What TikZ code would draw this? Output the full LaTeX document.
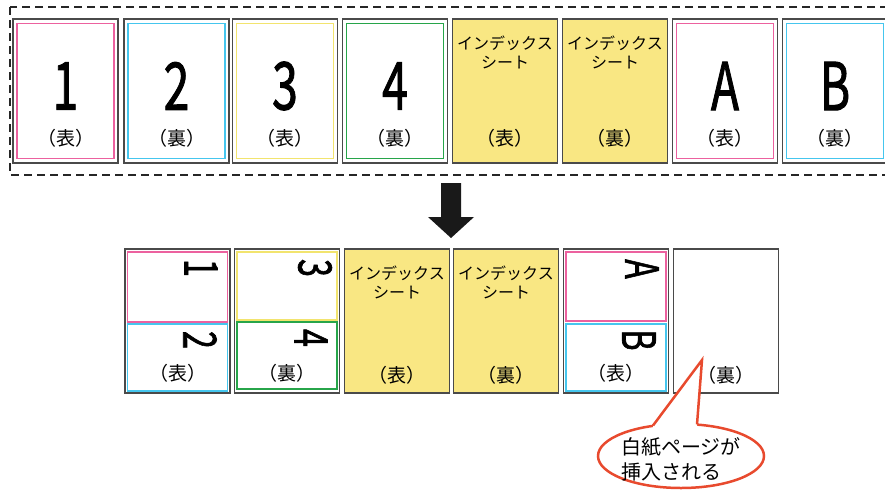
\documentclass[tikz,border=0pt]{standalone}
\usepackage{fontspec}
\setmainfont{Noto Sans CJK JP}
\newfontfamily\numfont[FakeBold=1.6]{Noto Sans CJK JP}
\usepackage{graphicx}
\usetikzlibrary{shapes.geometric}
\definecolor{cpink}{HTML}{EC619F}
\definecolor{ccyan}{HTML}{45C6EE}
\definecolor{cyell}{HTML}{F2E46E}
\definecolor{cgreen}{HTML}{27A54A}
\definecolor{cfill}{HTML}{F9E783}
\definecolor{cframe}{HTML}{4A4A4A}
\definecolor{cred}{HTML}{E84A2E}
\newcommand\bignum[1]{\scalebox{0.70}[1]{\numfont\fontsize{66}{66}\selectfont #1}}
\newcommand\smallnum[1]{\scalebox{0.70}[1]{\numfont\fontsize{46}{46}\selectfont #1}}
\begin{document}
\begin{tikzpicture}[x=1pt,y=-1pt,
  card/.style={draw=cframe,line width=1.3pt,fill=white,minimum width=105,minimum height=144,inner sep=0pt,outer sep=0pt},
  idx/.style={card,fill=cfill},
  inbox/.style={line width=1.2pt,minimum width=97,minimum height=135,inner sep=0pt,outer sep=0pt},
  half/.style={line width=1.2pt,minimum width=100,inner sep=0pt,outer sep=0pt},
  lbl/.style={font=\fontsize{19}{19}\selectfont,inner sep=0pt},
  idxtxt/.style={font=\fontsize{16}{19}\selectfont,align=center,inner sep=0pt},
  num/.style={inner sep=0pt},
  rnum/.style={inner sep=0pt,rotate=-90}]
\useasboundingbox (0,0) rectangle (885,490);
\begin{scope}
\clip (0,0) rectangle (885,490);
% dashed frame
\draw[line width=2pt,dash pattern=on 8pt off 5pt,draw=black!85] (10,7) rectangle (905,175);
% top row cards
\node[card] (t1) at (65.5,91) {};
\node[inbox,draw=cpink] (t1i) at (t1) {};
\node[card] (t2) at (176.5,91) {};
\node[inbox,draw=ccyan] (t2i) at (t2) {};
\node[card] (t3) at (285,91) {};
\node[inbox,draw=cyell] (t3i) at (t3) {};
\node[card] (t4) at (395,91) {};
\node[inbox,draw=cgreen] (t4i) at (t4) {};
\node[idx] (t5) at (505,91) {};
\node[idx] (t6) at (615,91) {};
\node[card] (t7) at (725,91) {};
\node[inbox,draw=cpink] (t7i) at (t7) {};
\node[card] (t8) at (835,91) {};
\node[inbox,draw=ccyan] (t8i) at (t8) {};
% top texts
\node[num] (n1) at (65.5,86) {\bignum{1}};
\node[num] (n2) at (176.5,86) {\bignum{2}};
\node[num] (n3) at (285,86) {\bignum{3}};
\node[num] (n4) at (395,86) {\bignum{4}};
\node[num] (nA) at (725,86) {\bignum{A}};
\node[num] (nB) at (835,86) {\bignum{B}};
\node[idxtxt] (x5) at (505,52.5) {インデックス\\シート};
\node[idxtxt] (x6) at (615,52.5) {インデックス\\シート};
\node[lbl] (l1) at (65.5,138) {（表）};
\node[lbl] (l2) at (176.5,138) {（裏）};
\node[lbl] (l3) at (285,138) {（表）};
\node[lbl] (l4) at (395,138) {（裏）};
\node[lbl] (l5) at (505,138) {（表）};
\node[lbl] (l6) at (615,138) {（裏）};
\node[lbl] (l7) at (725,138) {（表）};
\node[lbl] (l8) at (835,138) {（裏）};
\end{scope}
% arrow
\fill[black!90] (441,183) -- (461,183) -- (461,217) -- (474,217) -- (451,238) -- (428,217) -- (441,217) -- cycle;
% bottom row
\node[card] (b1) at (177.5,321) {};
\node[half,draw=cpink,minimum height=70] (b1a) at (177.5,287) {};
\node[half,draw=ccyan,minimum height=67] (b1b) at (177.5,357.5) {};
\node[card] (b2) at (287,321) {};
\node[half,draw=cyell,minimum height=68] (b2a) at (287,286) {};
\node[half,draw=cgreen,minimum height=67] (b2b) at (287,355.5) {};
\node[idx] (b3) at (397,321) {};
\node[idx] (b4) at (506,321) {};
\node[card] (b5) at (616,321) {};
\node[half,draw=cpink,minimum height=69] (b5a) at (616,286.5) {};
\node[half,draw=ccyan,minimum height=67] (b5b) at (616,357.5) {};
\node[card] (b6) at (726,321) {};
% rotated numbers
\node[rnum] (r1) at (201,268) {\smallnum{1}};
\node[rnum] (r2) at (200,340) {\smallnum{2}};
\node[rnum] (r3) at (315,268) {\smallnum{3}};
\node[rnum] (r4) at (311,338) {\smallnum{4}};
\node[rnum] (rA) at (642,269) {\smallnum{A}};
\node[rnum] (rB) at (639,340) {\smallnum{B}};
\node[idxtxt] (y3) at (397,282) {インデックス\\シート};
\node[idxtxt] (y4) at (506,282) {インデックス\\シート};
\node[lbl] (m1) at (177.5,373) {（表）};
\node[lbl] (m2) at (287,373) {（裏）};
\node[lbl] (m3) at (397,375) {（表）};
\node[lbl] (m4) at (506,375) {（裏）};
\node[lbl] (m5) at (616,373) {（表）};
\node[lbl] (m6) at (726,375) {（裏）};
% callout
\node[ellipse,draw=cred,line width=2.5pt,fill=white,minimum width=166,minimum height=64,inner sep=0pt,outer sep=0pt] (co) at (681,456) {};
\coordinate (tip) at (702,360);
\coordinate (pa) at (653,425.5);
\coordinate (pb) at (697,424.4);
\fill[white] (pa) -- (tip) -- (pb) -- (697,430) -- (653,431) -- cycle;
\draw[cred,line width=2.5pt,line join=miter] (pa) -- (tip) -- (pb);
\node[font=\fontsize{20}{25}\selectfont,align=left,inner sep=0pt,anchor=west] (ct) at (621,459.5) {白紙ページが\\挿入される};
\end{tikzpicture}
\end{document}
